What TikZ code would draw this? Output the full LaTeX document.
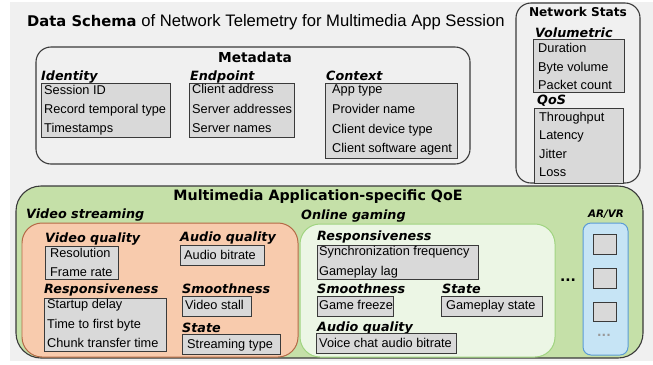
\documentclass[tikz,border=0pt]{standalone}
\usepackage{fontspec}
\setmainfont{Liberation Sans}
\newfontfamily\dvs{DejaVu Sans}
\definecolor{bgray}{HTML}{F0F0F0}
\definecolor{itemfill}{HTML}{D9D9D9}
\definecolor{lineg}{HTML}{3A3A3A}
\definecolor{qoegreen}{RGB}{197,224,168}
\definecolor{vsfill}{HTML}{F8CBAD}
\definecolor{vsline}{RGB}{180,105,70}
\definecolor{ogfill}{RGB}{236,246,229}
\definecolor{ogline}{RGB}{160,212,128}
\definecolor{arfill}{RGB}{198,228,245}
\definecolor{arline}{RGB}{91,155,213}
\newcommand\boxat[6]{\node[#6, minimum width=#4bp, minimum height=#5bp] (#1) at (#2,#3) {};}
\tikzset{
  base/.style={anchor=north west, inner sep=0pt, outer sep=0pt, rectangle},
  ibox/.style={base, draw=lineg, fill=itemfill, line width=0.9pt},
  cont/.style={base, draw=lineg, fill=bgray, line width=1.1pt, rounded corners=15bp},
  itm/.style={font=\fontsize{12.8}{14}\selectfont, anchor=base west, inner sep=0pt},
  lab/.style={font=\dvs\bfseries\itshape\fontsize{12.8}{14}\selectfont, anchor=base west, inner sep=0pt},
  hd/.style={font=\dvs\bfseries\fontsize{13.8}{15}\selectfont, anchor=base, inner sep=0pt},
}
\begin{document}
\begin{tikzpicture}[x=1bp,y=-1bp]
\useasboundingbox (0,0) rectangle (653,364);
\fill[white] (0,0) rectangle (653,364);
\fill[bgray] (10,2) rectangle (653,361);

% title
\node[anchor=base west, inner sep=0pt] (title) at (27,26)
  {{\dvs\bfseries\fontsize{14.8}{16}\selectfont Data Schema}\fontsize{16.7}{18}\selectfont{} of Network Telemetry for Multimedia App Session};

% Metadata
\boxat{meta}{36}{47}{434}{117}{cont}
\node[hd] (metat) at (255,62) {Metadata};
\node[lab] (idl) at (41,80) {Identity};
\boxat{idb}{41}{83}{129}{54}{ibox}
\node[itm] (id1) at (44,94) {Session ID};
\node[itm] (id2) at (44,113) {Record temporal type};
\node[itm] (id3) at (44,132) {Timestamps};
\node[lab] (epl) at (190,80) {Endpoint};
\boxat{epb}{189}{83}{105}{54}{ibox}
\node[itm] (ep1) at (192,93) {Client address};
\node[itm] (ep2) at (192,113) {Server addresses};
\node[itm] (ep3) at (192,132) {Server names};
\node[lab] (cxl) at (326,80) {Context};
\boxat{cxb}{325}{83}{132}{75}{ibox}
\node[itm] (cx1) at (332,93) {App type};
\node[itm] (cx2) at (332,113) {Provider name};
\node[itm] (cx3) at (332,133) {Client device type};
\node[itm] (cx4) at (332,152) {Client software agent};

% Network stats
\boxat{ns}{516}{3}{124}{180}{cont}
\node[hd, font=\dvs\bfseries\fontsize{12.2}{14}\selectfont] (nst) at (578,16) {Network Stats};
\node[lab] (vol) at (535,37) {Volumetric};
\boxat{volb}{533}{39}{91}{53}{ibox}
\node[itm] (v1) at (538,52) {Duration};
\node[itm] (v2) at (538,71) {Byte volume};
\node[itm] (v3) at (538,89) {Packet count};
\node[lab] (qos) at (537,104) {QoS};
\boxat{qosb}{534}{108}{89}{75}{ibox}
\node[itm] (q1) at (539,121) {Throughput};
\node[itm] (q2) at (539,139) {Latency};
\node[itm] (q3) at (539,158) {Jitter};
\node[itm] (q4) at (539,176) {Loss};

% QoE
\boxat{qoe}{16}{186}{627}{172}{cont, fill=qoegreen, rounded corners=25bp}
\node[hd, font=\dvs\bfseries\fontsize{14.3}{16}\selectfont] (qoet) at (318,200) {Multimedia Application-specific QoE};

% Video streaming
\node[lab] (vsl) at (26,218) {Video streaming};
\boxat{vs}{22}{223}{276}{134}{base, draw=vsline, fill=vsfill, line width=1pt, rounded corners=20bp}
\node[lab] (vql) at (45,242) {Video quality};
\boxat{vqb}{45}{246}{73}{33}{ibox}
\node[itm] (vq1) at (50,257) {Resolution};
\node[itm] (vq2) at (50,276.5) {Frame rate};
\node[lab] (aql) at (180,241) {Audio quality};
\boxat{aqb}{180}{245}{84}{20}{ibox}
\node[itm] (aq1) at (184,259) {Audio bitrate};
\node[lab] (rsl) at (44,293) {Responsiveness};
\boxat{rsb}{44}{298}{122}{53}{ibox}
\node[itm] (rs1) at (47,308) {Startup delay};
\node[itm] (rs2) at (47,328) {Time to first byte};
\node[itm] (rs3) at (47,347) {Chunk transfer time};
\node[lab] (sml) at (182,293) {Smoothness};
\boxat{smb}{182}{296}{69}{20}{ibox}
\node[itm] (sm1) at (185,309) {Video stall};
\node[lab] (stl) at (182,332) {State};
\boxat{stb}{182}{334}{98}{20}{ibox}
\node[itm] (st1) at (187,348) {Streaming type};

% Online gaming
\node[lab] (ogl) at (301,219) {Online gaming};
\boxat{og}{300}{224}{255}{133}{base, draw=ogline, fill=ogfill, line width=1pt, rounded corners=20bp}
\node[lab] (grl) at (317,240) {Responsiveness};
\boxat{grb}{317}{245}{161}{34}{ibox}
\node[itm] (gr1) at (319,255) {Synchronization frequency};
\node[itm] (gr2) at (319,275) {Gameplay lag};
\node[lab] (gsl) at (317,293) {Smoothness};
\boxat{gsb}{317}{296}{76}{20}{ibox}
\node[itm] (gs1) at (319,309) {Game freeze};
\node[lab] (gtl) at (442,293) {State};
\boxat{gtb}{441}{296}{101}{20}{ibox}
\node[itm] (gt1) at (446,309) {Gameplay state};
\node[lab] (gal) at (317,331) {Audio quality};
\boxat{gab}{316}{333}{140}{20}{ibox}
\node[itm] (ga1) at (319,347) {Voice chat audio bitrate};

% dots and AR/VR
\node[font=\dvs\bfseries\fontsize{14}{16}\selectfont, inner sep=0pt] (dots) at (568,280) {...};
\node[lab, anchor=base, font=\dvs\bfseries\itshape\fontsize{10.4}{12}\selectfont] (arl) at (606,217) {AR/VR};
\boxat{ar}{583}{223}{45}{132}{base, draw=arline, fill=arfill, line width=1pt, rounded corners=8bp}
\boxat{sq1}{593}{234}{23}{20}{ibox}
\boxat{sq2}{593}{268}{23}{20}{ibox}
\boxat{sq3}{593}{302}{23}{19}{ibox}
\node[font=\dvs\bfseries\fontsize{12}{14}\selectfont, text=gray!80, inner sep=0pt] (gdots) at (604,335) {...};
\end{tikzpicture}
\end{document}
